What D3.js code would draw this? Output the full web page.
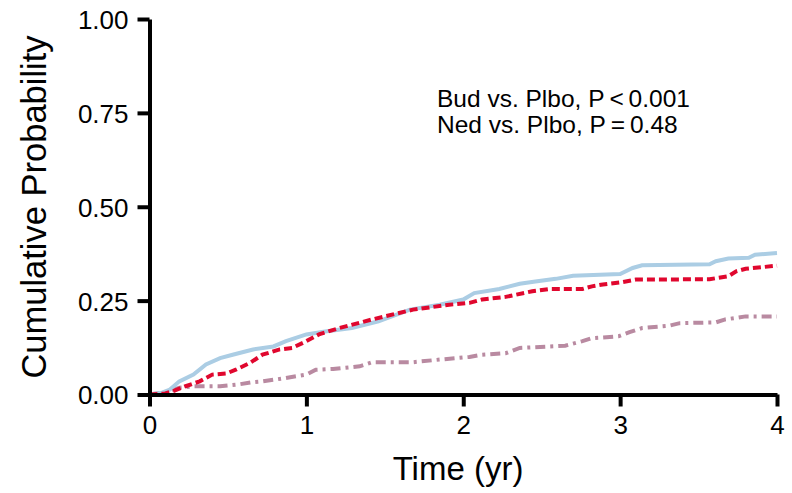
<!DOCTYPE html>
<html>
<head>
<meta charset="utf-8">
<script src="https://cdn.jsdelivr.net/npm/d3@7"></script>
<style>
  body { margin: 0; background: #fff; }
  svg { display: block; font-family: "Liberation Sans", Arial, sans-serif; }
</style>
</head>
<body>
<div id="chart"></div>
<script>
// Cumulative probability, per arm
const budTimes = [0, 0.08, 0.13, 0.19, 0.28, 0.36, 0.45, 0.53, 0.66, 0.79, 0.87, 1.0, 1.12, 1.29, 1.46, 1.66, 1.85, 2.0, 2.07, 2.23, 2.36, 2.46, 2.59, 2.70, 3.0, 3.08, 3.14, 3.57, 3.61, 3.69, 3.82, 3.86, 4.0];
const budValues = [0, 0.005, 0.013, 0.035, 0.053, 0.08, 0.097, 0.106, 0.12, 0.128, 0.142, 0.16, 0.168, 0.177, 0.195, 0.226, 0.239, 0.253, 0.27, 0.281, 0.295, 0.301, 0.308, 0.316, 0.321, 0.337, 0.344, 0.347, 0.355, 0.362, 0.364, 0.372, 0.377];

const nedTimes = [0, 0.1, 0.15, 0.23, 0.32, 0.40, 0.49, 0.55, 0.64, 0.72, 0.83, 0.91, 1.0, 1.08, 1.21, 1.42, 1.68, 1.91, 2.04, 2.12, 2.27, 2.44, 2.55, 2.76, 2.82, 2.89, 3.01, 3.10, 3.57, 3.69, 3.74, 3.80, 4.0];
const nedValues = [0, 0.003, 0.009, 0.022, 0.035, 0.053, 0.056, 0.066, 0.084, 0.106, 0.12, 0.124, 0.142, 0.16, 0.177, 0.2, 0.226, 0.239, 0.244, 0.253, 0.26, 0.275, 0.281, 0.281, 0.288, 0.293, 0.299, 0.306, 0.307, 0.315, 0.328, 0.335, 0.343];

const plboTimes = [0, 0.1, 0.19, 0.28, 0.45, 0.57, 0.66, 0.72, 0.87, 1.0, 1.06, 1.17, 1.34, 1.42, 1.68, 1.85, 2.04, 2.12, 2.27, 2.36, 2.65, 2.76, 2.82, 2.99, 3.06, 3.14, 3.31, 3.38, 3.61, 3.67, 3.74, 3.80, 4.0];
const plboValues = [0, 0.006, 0.018, 0.022, 0.022, 0.027, 0.033, 0.035, 0.044, 0.053, 0.066, 0.068, 0.075, 0.086, 0.086, 0.093, 0.1, 0.106, 0.11, 0.124, 0.13, 0.142, 0.15, 0.155, 0.166, 0.177, 0.183, 0.19, 0.192, 0.2, 0.204, 0.208, 0.208];

const xTicks = [0, 1, 2, 3, 4];
const yTicks = [0, 0.25, 0.5, 0.75, 1];
const annotations = ["Bud vs. Plbo, P\u2009<\u20090.001", "Ned vs. Plbo, P\u2009=\u20090.48"];

const width = 792, height = 493;

const svg = d3.select('#chart')
    .append('svg')
    .attr('width', width)
    .attr('height', height);

const x = d3.scaleLinear().domain([0, 4]).range([149.5, 777]);
const y = d3.scaleLinear().domain([0, 1]).range([394.5, 19]);

// series drawn from back to front (red dashes sit over the blue)
const series = [
    { times: plboTimes, values: plboValues, color: '#b98aa1', dash: '10,5,3,5' },
    { times: budTimes, values: budValues, color: '#abcde4', dash: null },
    { times: nedTimes, values: nedValues, color: '#e0072e', dash: '8,4' }
];

const line = d3.line()
    .x(d => x(d[0]))
    .y(d => y(d[1]));

series.forEach(s => {
    const pts = s.times.map((t, i) => [t, s.values[i]]);
    svg.append('path')
        .datum(pts)
        .attr('fill', 'none')
        .attr('stroke', s.color)
        .attr('stroke-width', 4)
        .attr('stroke-dasharray', s.dash)
        .attr('d', line);
});

// Axes
const xAxis = svg.append('g')
    .attr('transform', `translate(0, ${y(0)})`)
    .call(d3.axisBottom(x).tickValues(xTicks).tickFormat(d3.format('d')).tickSize(12).tickSizeOuter(0).tickPadding(9));

const yAxis = svg.append('g')
    .attr('transform', `translate(${x(0)}, 0)`)
    .call(d3.axisLeft(y).tickValues(yTicks).tickFormat(d3.format('.2f')).tickSize(12).tickSizeOuter(0).tickPadding(9));

[xAxis, yAxis].forEach(a => {
    a.select('.domain').attr('stroke', '#000').attr('stroke-width', 4);
    a.selectAll('.tick line').attr('stroke', '#000').attr('stroke-width', 4);
    a.selectAll('.tick text')
        .attr('fill', '#000')
        .style('font-size', '26px')
        .style('font-family', '"Liberation Sans", Arial, sans-serif');
});
yAxis.selectAll('.tick text').attr('dy', '0.36em');

// Axis titles
svg.append('text')
    .attr('x', 458)
    .attr('y', 480)
    .attr('text-anchor', 'middle')
    .style('font-size', '33px')
    .text('Time (yr)');

svg.append('text')
    .attr('transform', 'translate(46, 207) rotate(-90)')
    .attr('text-anchor', 'middle')
    .style('font-size', '34.5px')
    .text('Cumulative Probability');

// P-value annotation
annotations.forEach((txt, i) => {
    svg.append('text')
        .attr('x', 437)
        .attr('y', 107 + i * 26)
        .style('font-size', '24.5px')
        .text(txt);
});
</script>
</body>
</html>
